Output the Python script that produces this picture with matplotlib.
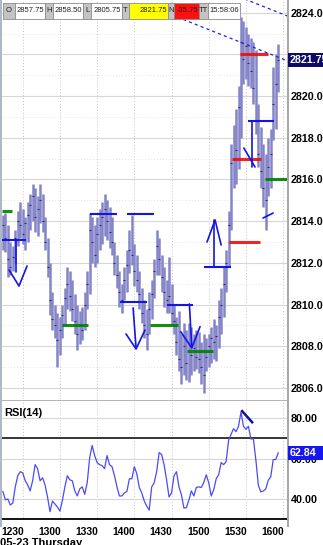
import matplotlib
matplotlib.use("Agg")
import matplotlib.pyplot as plt
import matplotlib.transforms as mtransforms
from matplotlib.patches import Rectangle
import numpy as np

# ---------------- data ----------------
# 2-minute bars, time in minutes after 12:00
bar_minutes = np.arange(14, 237, 2)
highs = [2814.3, 2814.4, 2813.8, 2813.0, 2812.8, 2813.6, 2814.5, 2814.9,
         2814.6, 2814.2, 2814.9, 2815.3, 2815.8, 2815.6, 2815.2, 2815.8,
         2815.3, 2814.2, 2813.2, 2812.0, 2810.6, 2810.0, 2809.6, 2809.4,
         2810.0, 2810.8, 2811.8, 2811.6, 2811.2, 2810.5, 2810.0, 2809.7,
         2809.9, 2810.6, 2811.6, 2814.4, 2814.2, 2813.8, 2814.2, 2814.6,
         2814.9, 2815.3, 2815.0, 2814.7, 2814.2, 2813.0, 2812.4, 2811.6,
         2811.0, 2811.8, 2812.6, 2813.6, 2814.3, 2812.9, 2812.4, 2811.6,
         2810.8, 2810.2, 2809.8, 2810.6, 2811.2, 2812.2, 2813.6, 2813.2,
         2812.4, 2811.8, 2811.2, 2812.3, 2811.0, 2810.0, 2809.4, 2809.7,
         2808.6, 2809.1, 2808.8, 2809.1, 2808.9, 2808.6, 2808.8, 2808.7,
         2808.2, 2808.6, 2808.4, 2808.6, 2808.9, 2809.3, 2809.0, 2810.2,
         2810.8, 2811.8, 2812.6, 2814.5, 2817.7, 2818.6, 2819.4, 2820.5,
         2823.8, 2823.6, 2823.3, 2823.0, 2822.8, 2822.6, 2822.2, 2819.6,
         2818.5, 2817.7, 2817.2, 2818.0, 2818.4, 2821.4, 2822.0, 2822.5]
lows = [2812.6, 2812.5, 2811.3, 2811.4, 2811.6, 2812.0, 2812.8, 2813.2,
        2812.9, 2812.6, 2813.0, 2813.6, 2814.0, 2813.5, 2813.3, 2813.9,
        2813.5, 2812.6, 2811.3, 2809.5, 2808.8, 2808.4, 2807.0, 2807.6,
        2808.4, 2809.0, 2809.8, 2809.7, 2809.2, 2808.6, 2807.8, 2808.1,
        2808.3, 2808.8, 2809.8, 2810.5, 2812.0, 2811.8, 2812.0, 2812.6,
        2812.9, 2813.3, 2813.1, 2812.7, 2812.4, 2811.4, 2810.8, 2809.9,
        2809.6, 2810.2, 2810.6, 2811.5, 2811.9, 2810.9, 2810.6, 2809.8,
        2809.1, 2808.4, 2807.8, 2808.6, 2809.3, 2810.3, 2811.4, 2811.4,
        2810.6, 2809.9, 2809.6, 2809.6, 2809.0, 2808.6, 2807.6, 2806.8,
        2806.2, 2806.6, 2806.4, 2806.3, 2806.6, 2806.8, 2806.9, 2806.7,
        2806.2, 2805.75, 2806.8, 2807.0, 2807.2, 2807.4, 2807.3, 2807.9,
        2808.6, 2809.4, 2810.6, 2811.8, 2813.6, 2815.6, 2815.8, 2816.5,
        2818.0, 2820.6, 2820.8, 2820.5, 2820.4, 2819.6, 2818.2, 2816.6,
        2815.6, 2814.7, 2813.6, 2815.2, 2815.6, 2817.9, 2818.4, 2820.2]
closes = [2813.8, 2813.2, 2812.2, 2811.8, 2812.3, 2813.2, 2814.0, 2813.8,
          2813.4, 2813.9, 2814.3, 2814.8, 2815.2, 2814.2, 2814.6, 2815.0,
          2814.0, 2813.0, 2811.8, 2810.2, 2809.3, 2809.0, 2808.3, 2808.8,
          2809.5, 2810.3, 2811.0, 2810.4, 2809.8, 2809.2, 2808.6, 2809.0,
          2808.8, 2810.0, 2811.0, 2813.6, 2813.0, 2812.4, 2813.4, 2813.8,
          2814.2, 2814.6, 2814.0, 2813.5, 2813.0, 2812.0, 2811.4, 2810.6,
          2810.2, 2811.2, 2811.9, 2812.6, 2812.4, 2811.6, 2811.2, 2810.5,
          2809.6, 2809.0, 2808.6, 2809.8, 2810.5, 2811.6, 2812.8, 2812.2,
          2811.3, 2810.6, 2810.2, 2810.4, 2809.6, 2809.2, 2808.2, 2807.4,
          2807.0, 2808.0, 2807.2, 2807.8, 2807.6, 2807.9, 2807.5, 2807.4,
          2807.0, 2806.6, 2807.5, 2808.0, 2808.4, 2808.2, 2808.5, 2809.4,
          2810.0, 2811.0, 2812.0, 2813.8, 2816.8, 2817.0, 2817.4, 2819.5,
          2822.6, 2821.8, 2822.4, 2821.6, 2821.2, 2820.4, 2818.8, 2817.2,
          2816.4, 2815.6, 2815.0, 2816.6, 2817.2, 2819.6, 2820.6, 2821.75]
rsi = [43.7, 39.6, 40.0, 37.0, 38.0, 46.0, 51.5, 53.5,
       53.0, 49.0, 47.0, 44.0, 49.0, 57.0, 55.0, 49.0,
       50.5, 47.0, 41.0, 33.7, 39.0, 37.5, 36.0, 34.0,
       39.3, 46.0, 51.5, 49.5, 49.0, 44.0, 41.5, 45.0,
       46.0, 42.3, 48.0, 60.5, 66.5, 61.5, 58.0, 57.0,
       56.5, 55.0, 61.5, 57.0, 56.0, 51.5, 46.0, 41.5,
       41.5, 43.0, 43.7, 50.0, 50.0, 56.0, 52.5, 45.7,
       43.0, 39.0, 36.5, 34.5, 46.0, 48.0, 53.5, 63.0,
       62.0, 57.0, 49.5, 41.0, 43.0, 51.5, 53.5, 46.0,
       42.0, 35.5, 35.7, 39.5, 44.0, 41.5, 45.7, 46.0,
       45.7, 48.2, 52.0, 48.0, 41.5, 44.5, 50.0, 52.0,
       58.0, 57.0, 58.5, 69.0, 72.0, 74.8, 73.3, 76.0,
       83.0, 76.0, 74.5, 76.0, 69.7, 69.8, 59.3, 46.8,
       43.5, 44.0, 45.0, 49.3, 51.0, 59.5, 59.5, 62.84]

tick_minutes = [30, 60, 90, 120, 150, 180, 210, 240]
tick_labels = ['1230', '1300', '1330', '1400', '1430', '1500', '1530', '1600']
price_ticks = [2806, 2808, 2810, 2812, 2814, 2816, 2818, 2820, 2822, 2824]
rsi_ticks = [40, 60, 80]

# horizontal levels drawn on the chart
green_start = [13.5, 61.5, 132.5, 162.5, 225.5]
green_end = [21.5, 82.5, 155.0, 183.5, 243.1]
green_price = [2814.5, 2809.0, 2809.0, 2807.75, 2816.0]
red_start = [205.5, 199.0, 196.5]
red_end = [227.5, 222.0, 221.0]
red_price = [2822.0, 2817.0, 2813.0]
blue_start = [13.3, 84.3, 114.4, 108.5, 146.4, 176.2, 211.7]
blue_end = [32.7, 106.1, 136.1, 130.3, 167.4, 197.9, 232.7]
blue_price = [2813.1, 2814.35, 2814.35, 2810.1, 2810.0, 2811.8, 2818.8]

# hand-drawn arrows (minutes, price)
arrow_paths = [
    [(24.6, 2813.1), (24.6, 2811.56)],
    [(19.0, 2811.66), (27.0, 2810.89), (33.5, 2811.85)],
    [(119.0, 2809.84), (121.4, 2807.92)],
    [(113.3, 2808.59), (121.4, 2807.87), (128.6, 2808.78)],
    [(164.4, 2810.03), (166.3, 2807.97)],
    [(157.4, 2808.70), (166.3, 2807.92), (173.0, 2808.94)],
    [(184.3, 2811.8), (184.3, 2814.06)],
    [(178.6, 2813.0), (185.1, 2814.06), (190.0, 2812.86)],
    [(214.8, 2818.81), (214.8, 2816.6)],
    [(208.3, 2817.51), (217.3, 2816.6)],
    [(223.8, 2814.15), (231.9, 2814.39)],
]
dash_paths = [
    [(205.0, 2824.75), (245.6, 2823.79)],
    [(150.0, 2823.90), (245.6, 2821.64)],
]
rsi_mark = [(206.9, 83.5), (215.0, 78.0)]

header_labels = ['O', 'H', 'L', 'T', 'N', 'TT']
header_values = ['2857.75', '2858.50', '2805.75', '2821.75', '-35.75', '15:58:06']
header_value_bg = ['white', 'white', 'white', '#ffff00', '#ff1010', 'white']

# ---------------- figure ----------------
W, H = 323, 545
fig = plt.figure(figsize=(W / 100, H / 100), dpi=100)
fig.patch.set_facecolor('white')
FONT = ['Liberation Sans', 'DejaVu Sans']
LBL = 7.7


def px_rect(x0, y0, x1, y1):
    return [x0 / W, 1 - y1 / H, (x1 - x0) / W, (y1 - y0) / H]


ax = fig.add_axes(px_rect(2, 0, 287, 399))
ax2 = fig.add_axes(px_rect(2, 401, 287, 520))

XMIN, XMAX = 13.3, 243.1
ax.set_xlim(XMIN, XMAX)
ax.set_ylim(2805.47, 2824.61)
for a in (ax, ax2):
    for s in a.spines.values():
        s.set_visible(False)
    for t in tick_minutes:
        a.axvline(t, color='#c4c4c4', lw=0.7, ls=(0, (1, 2)), zorder=0)

for p in price_ticks:
    ax.axhline(p, color='#d6d6d6', lw=0.8, zorder=0)
    ax.axhline(p + 1, color='#dadada', lw=0.6, ls=(0, (1, 2.5)), zorder=0)

# price bars
ax.vlines(bar_minutes, lows, highs, color='#8484c8', lw=1.8, zorder=2)
ax.plot(bar_minutes, closes, ls='none', marker='_', ms=1.8, mew=0.8,
        color='#2a2a78', zorder=3)

ax.hlines(green_price, green_start, green_end, color='#008400', lw=2.2, zorder=4, alpha=0.92)
ax.hlines(red_price, red_start, red_end, color='#ee1111', lw=2.2, zorder=4, alpha=0.92)
ax.hlines(blue_price, blue_start, blue_end, color='#1414e6', lw=1.5, zorder=4)
for path in arrow_paths:
    xs, ys = zip(*path)
    ax.plot(xs, ys, color='#1414e6', lw=1.2, zorder=5, solid_capstyle='round')
for path in dash_paths:
    xs, ys = zip(*path)
    ax.plot(xs, ys, color='#2424e0', lw=0.9, ls=(0, (2.5, 2.5)), zorder=5)

ax.set_xticks([])
ax.yaxis.tick_right()
ax.set_yticks(price_ticks)
ax.set_yticklabels(['' if p == 2822 else f'{p:.2f}' for p in price_ticks])
ax.tick_params(axis='y', length=0, pad=2.5)
for lab in ax.get_yticklabels():
    lab.set_family(FONT)
    lab.set_fontweight('bold')
    lab.set_fontsize(LBL)

# RSI panel
ax2.set_xlim(XMIN, XMAX)
ax2.set_ylim(29.6, 88.5)
for v in rsi_ticks:
    ax2.axhline(v, color='#d6d6d6', lw=0.8, zorder=0)
ax2.axhline(70, color='black', lw=1.1, zorder=1)
ax2.axhline(30, color='black', lw=1.3, zorder=1)
ax2.plot(bar_minutes, rsi, color='#4b4bf5', lw=0.9, zorder=3)
xs, ys = zip(*rsi_mark)
ax2.plot(xs, ys, color='#101090', lw=1.8, zorder=4)
ax2.yaxis.tick_right()
ax2.set_yticks(rsi_ticks)
ax2.set_yticklabels([f'{v:.2f}' for v in rsi_ticks])
ax2.tick_params(axis='y', length=0, pad=2.5)
for lab in ax2.get_yticklabels():
    lab.set_family(FONT)
    lab.set_fontweight('bold')
    lab.set_fontsize(LBL)
ax2.set_xticks(tick_minutes)
ax2.set_xticklabels(tick_labels)
ax2.tick_params(axis='x', length=0, pad=5)
offset = mtransforms.ScaledTranslation(1 / 100, 0, fig.dpi_scale_trans)
for lab in ax2.get_xticklabels():
    lab.set_family(FONT)
    lab.set_fontweight('bold')
    lab.set_fontsize(7.4)
    lab.set_ha('right')
    lab.set_transform(lab.get_transform() + offset)

fig.text(4 / W, 1 - 413 / H, 'RSI(14)', va='center', ha='left', family=FONT,
         fontweight='bold', fontsize=8)
fig.text(0, 1 - 538.5 / H, '05-23 Thursday', va='top', ha='left', family=FONT,
         fontweight='bold', fontsize=8)

# current value boxes
bm = mtransforms.blended_transform_factory(fig.transFigure, ax.transData)
fig.add_artist(Rectangle((288 / W, closes[-1] - 0.34), 36 / W, 0.68, transform=bm,
                         facecolor='#0c0c66', edgecolor='none', zorder=10))
fig.text(290 / W, closes[-1], f'{closes[-1]:.2f}', transform=bm, color='white',
         va='center', ha='left', family=FONT, fontweight='bold', fontsize=LBL, zorder=11)
br = mtransforms.blended_transform_factory(fig.transFigure, ax2.transData)
fig.add_artist(Rectangle((288 / W, rsi[-1] - 3.3), 36 / W, 6.6, transform=br,
                         facecolor='#1616f0', edgecolor='none', zorder=10))
fig.text(290 / W, rsi[-1], f'{rsi[-1]:.2f}', transform=br, color='white',
         va='center', ha='left', family=FONT, fontweight='bold', fontsize=LBL, zorder=11)

# frame lines
fig.add_artist(Rectangle((0, 1 - 527 / H), 2 / W, 527 / H, transform=fig.transFigure,
                         facecolor='#b0b8c8', edgecolor='none', zorder=9))
fig.add_artist(Rectangle((286.5 / W, 1 - 527 / H), 2 / W, 527 / H, transform=fig.transFigure,
                         facecolor='#a8a8a8', edgecolor='none', zorder=9))
fig.add_artist(Rectangle((2 / W, 1 - 401 / H), 285 / W, 1.5 / H, transform=fig.transFigure,
                         facecolor='#b4b4b4', edgecolor='none', zorder=9))

# header box
label_cells = [(3, 15), (45, 53), (83, 91), (122, 129), (168, 174), (199, 208)]
value_cells = [(15, 45), (53, 83), (91, 122), (129, 168), (174, 199), (208, 240)]
y0, y1 = 3, 19
for (lx0, lx1), (vx0, vx1), lab, val, bg in zip(label_cells, value_cells, header_labels,
                                                  header_values, header_value_bg):
    fig.add_artist(Rectangle((lx0 / W, 1 - y1 / H), (lx1 - lx0) / W, (y1 - y0) / H,
                             transform=fig.transFigure, facecolor='#c4c4c4',
                             edgecolor='#8c8c8c', lw=0.6, zorder=12))
    fig.add_artist(Rectangle((vx0 / W, 1 - y1 / H), (vx1 - vx0) / W, (y1 - y0) / H,
                             transform=fig.transFigure, facecolor=bg,
                             edgecolor='#8c8c8c', lw=0.6, zorder=12))
    fig.text((lx0 + lx1) / 2 / W, 1 - (y0 + y1) / 2 / H, lab, ha='center', va='center',
             family=FONT, fontsize=5.5, color='#202020', zorder=13)
    fig.text((vx1 - 1.2) / W, 1 - (y0 + y1) / 2 / H, val, ha='right', va='center',
             family=FONT, fontsize=5.5, color='#202020', zorder=13)

fig.savefig('out.png', dpi=100, facecolor='white')
